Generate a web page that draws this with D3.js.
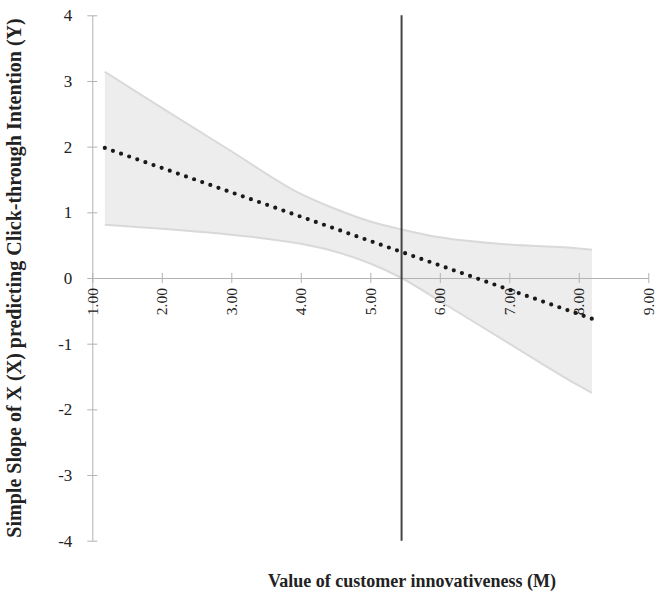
<!DOCTYPE html>
<html>
<head>
<meta charset="utf-8">
<script src="https://cdn.jsdelivr.net/npm/d3@7"></script>
<style>
  html, body { margin: 0; padding: 0; background: #fff; }
  svg { display: block; }
  text { font-family: "Liberation Serif", "Times New Roman", serif; }
</style>
</head>
<body>
<svg id="chart" width="662" height="591"></svg>
<script>
// ---- data ----
const modValues = [1.18, 2.0, 3.0, 4.0, 4.5, 5.0, 5.45, 6.0, 7.0, 8.0, 8.19];
const upperCI   = [3.14, 2.59, 1.93, 1.28, 1.05, 0.86, 0.74, 0.62, 0.51, 0.45, 0.43];
const lowerCI   = [0.81, 0.75, 0.66, 0.52, 0.40, 0.22, 0.00, -0.35, -1.00, -1.64, -1.75];
const slopeX    = [1.18, 8.19];
const slopeY    = [1.98, -0.62];
const jnPoint   = 5.45;
const xTicks    = [1, 2, 3, 4, 5, 6, 7, 8, 9];
const yTicks    = [-4, -3, -2, -1, 0, 1, 2, 3, 4];
const xTitle    = "Value of customer innovativeness (M)";
const yTitle    = "Simple Slope of X (X) predicting Click-through Intention (Y)";

const svg = d3.select("#chart");
const x = d3.scaleLinear().domain([1, 9]).range([92.3, 648.3]);
const y = d3.scaleLinear().domain([-4, 4]).range([540.7, 15.3]);

const band = modValues.map((m, i) => ({ m, lo: lowerCI[i], hi: upperCI[i] }));
const curve = d3.curveMonotoneX;

// confidence band
svg.append("path")
  .datum(band)
  .attr("fill", "#ededed")
  .attr("d", d3.area().x(d => x(d.m)).y0(d => y(d.lo)).y1(d => y(d.hi)).curve(curve));
svg.append("path")
  .datum(band)
  .attr("fill", "none").attr("stroke", "#d9d9d9").attr("stroke-width", 2)
  .attr("d", d3.line().x(d => x(d.m)).y(d => y(d.hi)).curve(curve));
svg.append("path")
  .datum(band)
  .attr("fill", "none").attr("stroke", "#d9d9d9").attr("stroke-width", 2)
  .attr("d", d3.line().x(d => x(d.m)).y(d => y(d.lo)).curve(curve));

// axes
const font = "'Liberation Serif', 'Times New Roman', serif";
const yAxis = svg.append("g").attr("transform", `translate(${x(1)},0)`)
  .call(d3.axisLeft(y).tickValues(yTicks).tickFormat(d => String(d)).tickSizeInner(5).tickSizeOuter(0));
yAxis.attr("font-family", font).style("font-family", font);
yAxis.select(".domain").attr("stroke", "#b3b3b3");
yAxis.selectAll(".tick line").attr("stroke", "#b3b3b3").attr("x2", 5).attr("x1", -5);
yAxis.selectAll(".tick text").attr("font-size", 17).attr("fill", "#222")
  .attr("x", -20);

const xAxis = svg.append("g").attr("transform", `translate(0,${y(0)})`)
  .call(d3.axisBottom(x).tickValues(xTicks).tickFormat(d3.format(".2f")).tickSizeInner(5).tickSizeOuter(0));
xAxis.attr("font-family", font).style("font-family", font);
xAxis.select(".domain").attr("stroke", "#b3b3b3");
xAxis.selectAll(".tick line").attr("stroke", "#b3b3b3").attr("y1", -5).attr("y2", 5);
xAxis.selectAll(".tick text")
  .attr("font-size", 15.5).attr("fill", "#222")
  .attr("transform", "rotate(-90)")
  .attr("x", -10).attr("y", 0).attr("dy", "0.32em")
  .attr("text-anchor", "end");

// Johnson-Neyman vertical line
svg.append("line")
  .attr("x1", x(jnPoint)).attr("x2", x(jnPoint))
  .attr("y1", y(4)).attr("y2", y(-4))
  .attr("stroke", "#444").attr("stroke-width", 2);

// simple slope dotted line
svg.append("path")
  .datum(slopeX.map((m, i) => [m, slopeY[i]]))
  .attr("fill", "none").attr("stroke", "#1a1a1a")
  .attr("stroke-width", 4.2).attr("stroke-linecap", "round")
  .attr("stroke-dasharray", "0 8.6")
  .attr("d", d3.line().x(d => x(d[0])).y(d => y(d[1])));

// titles
svg.append("text")
  .attr("x", 268).attr("y", 587)
  .attr("text-anchor", "start")
  .style("font-family", font).attr("font-weight", "bold").attr("font-size", 18).attr("fill", "#222")
  .text(xTitle);
svg.append("text")
  .attr("transform", "translate(21,278) rotate(-90)")
  .attr("text-anchor", "middle")
  .style("font-family", font).attr("font-weight", "bold").attr("font-size", 20).attr("fill", "#222")
  .text(yTitle);
</script>
</body>
</html>
